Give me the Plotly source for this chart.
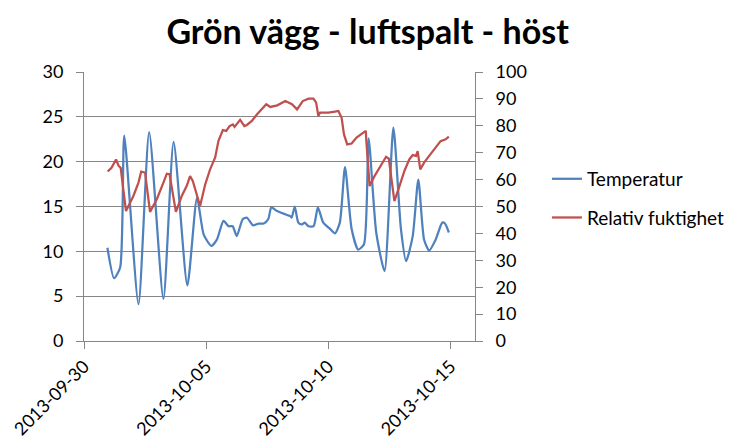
import plotly.graph_objects as go

title_text = "Grön vägg - luftspalt - höst"
series_names = ["Temperatur", "Relativ fuktighet"]

temp_time = [
    "2013-09-30 23:00", "2013-10-01 05:30", "2013-10-01 11:30", "2013-10-01 15:30",
    "2013-10-02 05:30", "2013-10-02 16:00", "2013-10-03 06:00", "2013-10-03 16:00",
    "2013-10-04 05:30", "2013-10-04 15:00", "2013-10-04 21:30", "2013-10-05 05:00",
    "2013-10-05 10:30", "2013-10-05 17:00", "2013-10-05 22:00", "2013-10-06 02:00",
    "2013-10-06 06:00", "2013-10-06 12:00", "2013-10-06 16:00", "2013-10-06 22:00",
    "2013-10-07 03:30", "2013-10-07 08:30", "2013-10-07 13:00", "2013-10-07 16:00",
    "2013-10-07 21:30", "2013-10-08 04:00", "2013-10-08 11:00", "2013-10-08 12:00",
    "2013-10-08 15:00", "2013-10-08 18:30", "2013-10-08 22:00", "2013-10-09 00:45",
    "2013-10-09 04:30", "2013-10-09 09:30", "2013-10-09 13:40", "2013-10-09 19:00",
    "2013-10-10 01:40", "2013-10-10 06:30", "2013-10-10 11:15", "2013-10-10 16:20",
    "2013-10-10 22:50", "2013-10-11 05:15", "2013-10-11 11:00", "2013-10-11 15:30",
    "2013-10-11 23:00", "2013-10-12 07:10", "2013-10-12 15:50", "2013-10-12 23:15",
    "2013-10-13 04:20", "2013-10-13 10:50", "2013-10-13 16:20", "2013-10-13 22:00",
    "2013-10-14 03:00", "2013-10-14 09:20", "2013-10-14 15:50", "2013-10-14 18:30",
    "2013-10-14 22:20",
]
temp_values = [
    10.4, 7.0, 8.2, 22.9,
    4.1, 23.3, 4.7, 22.2,
    6.2, 16.0, 11.9, 10.6,
    11.3, 13.4, 12.8, 12.8,
    11.7, 13.6, 13.75, 12.9,
    13.1, 13.1, 13.6, 14.9,
    14.5, 14.2, 13.9, 13.75,
    15.0, 13.2, 13.0, 13.2,
    12.8, 12.8, 14.9, 13.2,
    12.5, 12.0, 13.2, 19.4,
    12.5, 10.2, 10.8, 22.6,
    12.1, 7.8, 23.8, 12.5,
    8.9, 11.7, 18.0, 11.3,
    10.1, 11.3, 13.2, 13.1,
    12.1,
]

rh_time = [
    "2013-09-30 23:15", "2013-10-01 03:00", "2013-10-01 07:30", "2013-10-01 10:00",
    "2013-10-01 12:00", "2013-10-01 17:15", "2013-10-02 00:30", "2013-10-02 05:30",
    "2013-10-02 08:10", "2013-10-02 12:00", "2013-10-02 16:50", "2013-10-02 23:30",
    "2013-10-03 06:00", "2013-10-03 09:20", "2013-10-03 12:00", "2013-10-03 18:15",
    "2013-10-04 00:00", "2013-10-04 04:50", "2013-10-04 08:10", "2013-10-04 10:50",
    "2013-10-04 18:00", "2013-10-04 23:00", "2013-10-05 03:50", "2013-10-05 08:50",
    "2013-10-05 12:00", "2013-10-05 16:20", "2013-10-05 19:40", "2013-10-05 23:00",
    "2013-10-06 02:10", "2013-10-06 03:50", "2013-10-06 09:20", "2013-10-06 13:30",
    "2013-10-06 16:00", "2013-10-06 20:50", "2013-10-07 02:00", "2013-10-07 06:40",
    "2013-10-07 11:00", "2013-10-07 15:00", "2013-10-07 21:50", "2013-10-08 05:45",
    "2013-10-08 12:15", "2013-10-08 17:15", "2013-10-08 22:50", "2013-10-09 04:30",
    "2013-10-09 09:20", "2013-10-09 12:00", "2013-10-09 14:10", "2013-10-09 15:50",
    "2013-10-10 00:00", "2013-10-10 06:30", "2013-10-10 09:50", "2013-10-10 13:00",
    "2013-10-10 15:20", "2013-10-10 18:30", "2013-10-10 22:50", "2013-10-11 03:40",
    "2013-10-11 08:20", "2013-10-11 12:45", "2013-10-11 13:10", "2013-10-11 16:30",
    "2013-10-11 21:20", "2013-10-12 03:50", "2013-10-12 08:40", "2013-10-12 11:20",
    "2013-10-12 16:50", "2013-10-12 21:50", "2013-10-13 02:40", "2013-10-13 07:30",
    "2013-10-13 10:50", "2013-10-13 14:10", "2013-10-13 15:40", "2013-10-13 18:15",
    "2013-10-13 22:00", "2013-10-14 03:00", "2013-10-14 09:20", "2013-10-14 14:10",
    "2013-10-14 19:10", "2013-10-14 22:20",
]
rh_values = [
    63.0, 64.4, 67.5, 65.1,
    64.4, 48.3, 53.9, 58.9,
    63.0, 62.6, 48.0, 52.7,
    58.9, 62.2, 62.0, 48.0,
    53.9, 57.6, 61.3, 59.5,
    50.2, 58.2, 63.8, 68.2,
    74.3, 78.4, 78.1, 79.9,
    80.5, 79.6, 82.2, 79.9,
    80.3, 81.8, 84.3, 86.4,
    88.0, 87.0, 87.6, 89.2,
    88.0, 86.1, 89.2, 90.1,
    90.1, 88.6, 83.6, 84.9,
    84.9, 85.3, 85.5, 83.0,
    76.8, 73.1, 73.4, 75.6,
    76.8, 78.1, 75.0, 57.6,
    61.3, 65.7, 68.5, 67.8,
    52.0, 57.6, 63.2, 67.5,
    69.1, 68.8, 70.6, 63.8,
    66.3, 68.8, 71.9, 74.3,
    75.0, 76.0,
]

x_ticks = ["2013-09-30", "2013-10-05", "2013-10-10", "2013-10-15"]
x_range = ["2013-09-30", "2013-10-16"]
y_left_ticks = [0, 5, 10, 15, 20, 25, 30]
y_right_ticks = [0, 10, 20, 30, 40, 50, 60, 70, 80, 90, 100]

FONT = "Lato"
AXIS_COLOR = "#868686"

fig = go.Figure()
fig.add_trace(go.Scatter(
    x=temp_time, y=temp_values, name=series_names[0], mode="lines",
    line=dict(color="#4F81BD", width=2.25, shape="spline", smoothing=0.6),
    legendgroup="a", yaxis="y",
))
fig.add_trace(go.Scatter(
    x=rh_time, y=rh_values, name=series_names[1], mode="lines",
    line=dict(color="#C0504D", width=2.25),
    legendgroup="b", yaxis="y2",
))

# The page body has an 8px default margin, so the figure is 8px smaller
fig.update_layout(
    width=725, height=436,
    margin=dict(l=76, r=258, t=64, b=103, autoexpand=False),
    paper_bgcolor="white", plot_bgcolor="white",
    font=dict(family=FONT, size=18, color="#000000"),
    title=dict(text="<b>" + title_text + "</b>", x=0.496, xanchor="center",
               y=0.945, yanchor="middle", font=dict(family=FONT, size=34, color="#000000")),
    showlegend=True,
    legend=dict(x=1.184, xanchor="left", y=0.53, yanchor="middle",
                font=dict(family=FONT, size=19), traceorder="grouped",
                tracegroupgap=11, bgcolor="rgba(0,0,0,0)"),
    xaxis=dict(
        type="date", range=x_range, tickvals=x_ticks, ticktext=x_ticks,
        tickangle=-45, showgrid=False, showline=True, linecolor=AXIS_COLOR,
        linewidth=1, ticks="outside", ticklen=7, tickcolor=AXIS_COLOR,
        zeroline=False, tickfont=dict(family=FONT, size=18), automargin=False,
    ),
    yaxis=dict(
        range=[0, 30], tickvals=y_left_ticks, showgrid=True, gridcolor=AXIS_COLOR,
        gridwidth=1, showline=True, linecolor=AXIS_COLOR, ticks="outside",
        ticklen=7, tickcolor=AXIS_COLOR, zeroline=False, automargin=False,
        ticklabelstandoff=9, tickfont=dict(family=FONT, size=18),
    ),
    yaxis2=dict(
        range=[0, 100], tickvals=y_right_ticks, overlaying="y", side="right",
        showgrid=False, showline=True, linecolor=AXIS_COLOR, ticks="outside",
        ticklen=7, tickcolor=AXIS_COLOR, zeroline=False, automargin=False,
        ticklabelstandoff=9, tickfont=dict(family=FONT, size=18),
    ),
)

fig.write_html("out.html")
